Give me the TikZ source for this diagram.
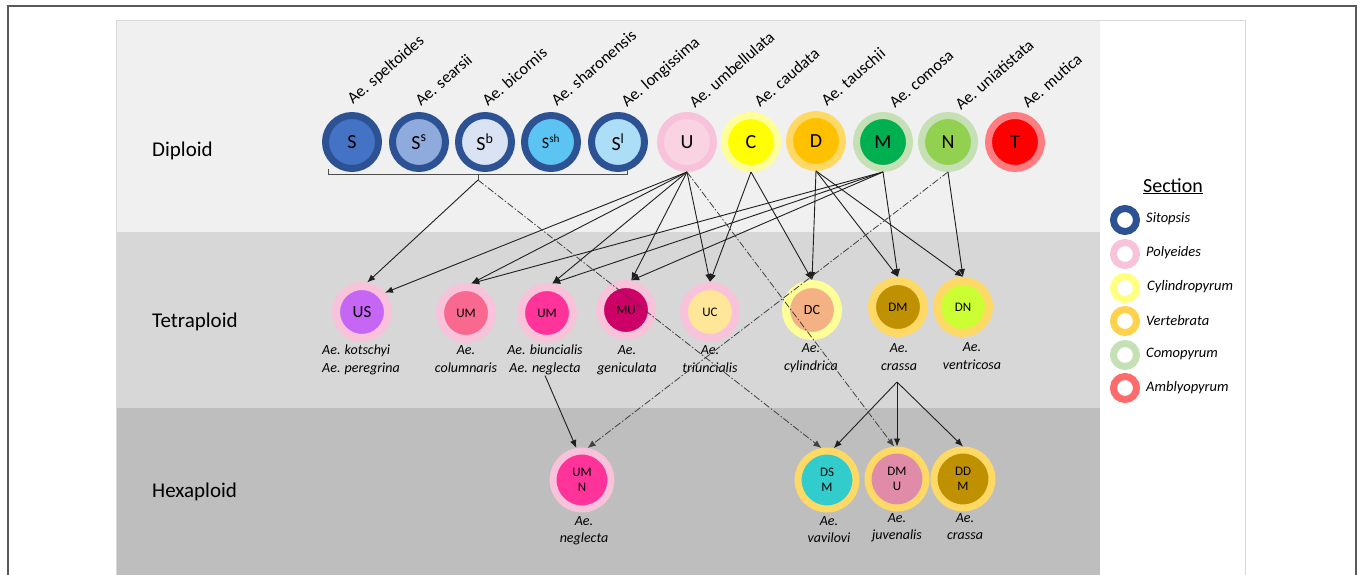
\documentclass[tikz,border=0pt]{standalone}
\usepackage{fontspec}
\setmainfont{Carlito}
\usetikzlibrary{arrows.meta}
\definecolor{bgA}{HTML}{F0F0F0}
\definecolor{bgB}{HTML}{D7D7D7}
\definecolor{bgC}{HTML}{BEBEBE}
\definecolor{rSit}{HTML}{2D5293}
\definecolor{rPol}{HTML}{F8C3DA}
\definecolor{rCyl}{HTML}{FFFF99}
\definecolor{rVer}{HTML}{FFD966}
\definecolor{rCom}{HTML}{C5E0B4}
\definecolor{rAmb}{HTML}{FF7C80}
\definecolor{iS}{HTML}{4472C4}
\definecolor{iSs}{HTML}{8FAADC}
\definecolor{iSb}{HTML}{DAE3F3}
\definecolor{iSsh}{HTML}{5BC4F3}
\definecolor{iSl}{HTML}{ADDEF8}
\definecolor{iU}{HTML}{FAD3E3}
\definecolor{iC}{HTML}{FFFF00}
\definecolor{iD}{HTML}{FFC000}
\definecolor{iM}{HTML}{00B050}
\definecolor{iN}{HTML}{92D050}
\definecolor{iT}{HTML}{FF0000}
\definecolor{iUS}{HTML}{C566F5}
\definecolor{iUMa}{HTML}{F9688F}
\definecolor{iUMb}{HTML}{FF3399}
\definecolor{iMU}{HTML}{CC0066}
\definecolor{iUC}{HTML}{FFE699}
\definecolor{iDC}{HTML}{F4B183}
\definecolor{iDM}{HTML}{BF9000}
\definecolor{iDN}{HTML}{CCFF33}
\definecolor{iDSM}{HTML}{33CCCC}
\definecolor{iDMU}{HTML}{E08CA8}
\definecolor{legAmb}{HTML}{FF6B6B}
\definecolor{legCyl}{HTML}{FFFF80}
\definecolor{legVer}{HTML}{FFD24D}
\tikzset{
  dip/.style 2 args={circle, draw=#1, fill=#2, line width=7pt, minimum size=53pt, inner sep=0pt, font=\fontsize{20}{20}\selectfont},
  tet/.style 2 args={circle, draw=#1, fill=#2, line width=8pt, minimum size=52pt, inner sep=0pt, font=\fontsize{13}{13}\selectfont},
  hex/.style 2 args={circle, draw=#1, fill=#2, line width=7pt, minimum size=58pt, inner sep=0pt, align=center, font=\fontsize{13}{15.5}\selectfont},
  leg/.style={circle, draw=#1, fill=white, line width=7pt, minimum size=23pt, inner sep=0pt},
  splab/.style={rotate=41, anchor=base west, inner sep=0pt, font=\fontsize{16.5}{16.5}\selectfont},
  tlab/.style={anchor=north, inner sep=0pt, align=center, font=\fontsize{14}{18}\itshape},
  hlab/.style={anchor=north, inner sep=0pt, align=center, font=\fontsize{14}{17}\itshape},
  ploid/.style={anchor=west, inner sep=0pt, font=\fontsize{21}{21}\selectfont},
  legtxt/.style={anchor=west, inner sep=0pt, font=\fontsize{14.5}{14.5}\itshape},
  arr/.style={-{Latex[length=8pt,width=6.5pt]}, line width=0.9pt, draw=black!88},
  dd/.style={-{Latex[length=8pt,width=6.5pt]}, line width=0.8pt, draw=black!75, dash pattern=on 7pt off 2pt on 1.5pt off 2pt},
}
\begin{document}
\begin{tikzpicture}[x=1pt,y=-1pt]
\useasboundingbox (0,0) rectangle (1360,575);
\clip (0,0) rectangle (1360,575);
% frame and bands
\draw[black!65, line width=1.2pt] (8,590) -- (8,6) -- (1356,6) -- (1356,590);
\fill[bgA] (116,21) rectangle (1100,232);
\fill[bgB] (116,232) rectangle (1100,408);
\fill[bgC] (116,408) rectangle (1100,590);
\draw[black!15, line width=1pt] (116,590) -- (116,21) -- (1245,21) -- (1245,590);
% ploidy labels
\node[ploid] (lDip) at (152,151) {Diploid};
\node[ploid] (lTet) at (152,322) {Tetraploid};
\node[ploid] (lHex) at (152,492) {Hexaploid};
% diploid genomes
\node[dip={rSit}{iS}] (S) at (352,142) {S};
\node[dip={rSit}{iSs}] (Ss) at (419,142) {S\textsuperscript{s}};
\node[dip={rSit}{iSb}] (Sb) at (485,142) {S\textsuperscript{b}};
\node[dip={rSit}{iSsh}, font=\fontsize{16}{16}\selectfont] (Ssh) at (551,142) {S\textsuperscript{sh}};
\node[dip={rSit}{iSl}] (Sl) at (618,142) {S\textsuperscript{l}};
\node[dip={rPol}{iU}] (U) at (687,142) {U};
\node[dip={rCyl}{iC}] (C) at (751,142) {C};
\node[dip={rVer}{iD}] (D) at (816,141) {D};
\node[dip={rCom}{iM}] (M) at (883,142) {M};
\node[dip={rCom}{iN}] (N) at (948,142) {N};
\node[dip={rAmb}{iT}] (T) at (1015,142) {T};
% diploid species names
\node[splab] (nS) at (353,105) {Ae. speltoides};
\node[splab] (nSs) at (421,107) {Ae. searsii};
\node[splab] (nSb) at (488,107) {Ae. bicornis};
\node[splab] (nSsh) at (557,107) {Ae. sharonensis};
\node[splab] (nSl) at (627,108) {Ae. longissima};
\node[splab] (nU) at (695,109) {Ae. umbellulata};
\node[splab] (nC) at (760,108) {Ae. caudata};
\node[splab] (nD) at (827,107) {Ae. tauschii};
\node[splab] (nM) at (895,109) {Ae. comosa};
\node[splab] (nN) at (961,111) {Ae. uniatistata};
\node[splab] (nT) at (1028,109) {Ae. mutica};
% bracket
\draw[black!70, line width=0.9pt] (328,169) -- (328,174) -- (627,174) -- (627,169);
\coordinate (brk) at (478,180);
\draw[black!70, line width=0.9pt] (478,174) -- (brk);
% tetraploid
\node[tet={rPol}{iUS}, font=\fontsize{17}{17}\selectfont] (US) at (362,312) {US};
\node[tet={rPol}{iUMa}] (UMa) at (466,313) {UM};
\node[tet={rPol}{iUMb}] (UMb) at (547,313) {UM};
\node[tet={rPol}{iMU}] (MU) at (626,310) {MU};
\node[tet={rPol}{iUC}] (UC) at (710,312) {UC};
\node[tet={rCyl}{iDC}, font=\fontsize{14}{14}\selectfont] (DC) at (812,310) {DC};
\node[tet={rVer}{iDM}] (DM) at (898,307) {DM};
\node[tet={rVer}{iDN}] (DN) at (963,307) {DN};
\node[tlab, anchor=north west, align=left] (lUS) at (322,345) {Ae. kotschyi\\Ae. peregrina};
\node[tlab] (lUMa) at (466,345) {Ae.\\columnaris};
\node[tlab] (lUMb) at (545,345) {Ae. biuncialis\\Ae. neglecta};
\node[tlab] (lMU) at (627,345) {Ae.\\geniculata};
\node[tlab] (lUC) at (710,345) {Ae.\\triuncialis};
\node[tlab] (lDC) at (811,343) {Ae.\\cylindrica};
\node[tlab] (lDM) at (899,343) {Ae.\\crassa};
\node[tlab] (lDN) at (972,342) {Ae.\\ventricosa};
\coordinate (dmsplit) at (897,382);
% hexaploid
\node[hex={rPol}{iUMb}] (UMN) at (582,480) {UM\\N};
\node[hex={rVer}{iDSM}] (DSM) at (827,480) {DS\\M};
\node[hex={rVer}{iDMU}] (DMU) at (897,479) {DM\\U};
\node[hex={rVer}{iDM}] (DDM) at (963,479) {DD\\M};
\node[hlab] (lUMN) at (584,516) {Ae.\\neglecta};
\node[hlab] (lDSM) at (829,516) {Ae.\\vavilovi};
\node[hlab] (lDMU) at (897,513) {Ae.\\juvenalis};
\node[hlab] (lDDM) at (965,513) {Ae.\\crassa};
% solid arrows
\draw[arr] (brk) -- (US.80);
\draw[arr] (U.south) -- (US.40);
\draw[arr] (U.south) -- (UMa.80);
\draw[arr] (U.south) -- (UMb.80);
\draw[arr] (U.south) -- (MU.80);
\draw[arr] (U.south) -- (UC.north);
\draw[arr] (M.south) -- (UMa.80);
\draw[arr] (M.south) -- (UMb.80);
\draw[arr] (M.south) -- (MU.80);
\draw[arr] (M.south) -- (DM.north);
\draw[arr] (C.south) -- (UC.north);
\draw[arr] (C.south) -- (DC.north);
\draw[arr] (D.south) -- (DC.north);
\draw[arr] (D.south) -- (DM.north);
\draw[arr] (D.south) -- (DN.north);
\draw[arr] (N.south) -- (DN.north);
\draw[arr] (lUMb.south) -- (UMN.100);
\draw[arr] (dmsplit) -- (DSM.78);
\draw[arr] (dmsplit) -- (DMU.north);
\draw[arr] (dmsplit) -- (DDM.north);
% dash-dot arrows
\draw[dd] (brk) -- (DSM.100);
\draw[dd] (U.south) -- (DMU.95);
\draw[dd] (N.south) -- (UMN.80);
% legend
\fill[white] (1101,21.5) rectangle (1244.5,590);
\node[anchor=base, inner sep=0pt, font=\fontsize{20}{20}\selectfont] (sec) at (1173,192) {\underline{Section}};
\node[leg=rSit] (g1) at (1125,220) {};
\node[leg=rPol] (g2) at (1125,254) {};
\node[leg=legCyl] (g3) at (1125,288) {};
\node[leg=legVer] (g4) at (1125,321) {};
\node[leg=rCom] (g5) at (1125,355) {};
\node[leg=legAmb] (g6) at (1125,388) {};
\node[legtxt] (t1) at (1146,219) {Sitopsis};
\node[legtxt] (t2) at (1146,253) {Polyeides};
\node[legtxt] (t3) at (1147,287) {Cylindropyrum};
\node[legtxt] (t4) at (1146,321) {Vertebrata};
\node[legtxt] (t5) at (1146,354) {Comopyrum};
\node[legtxt] (t6) at (1146,388) {Amblyopyrum};
\end{tikzpicture}
\end{document}
